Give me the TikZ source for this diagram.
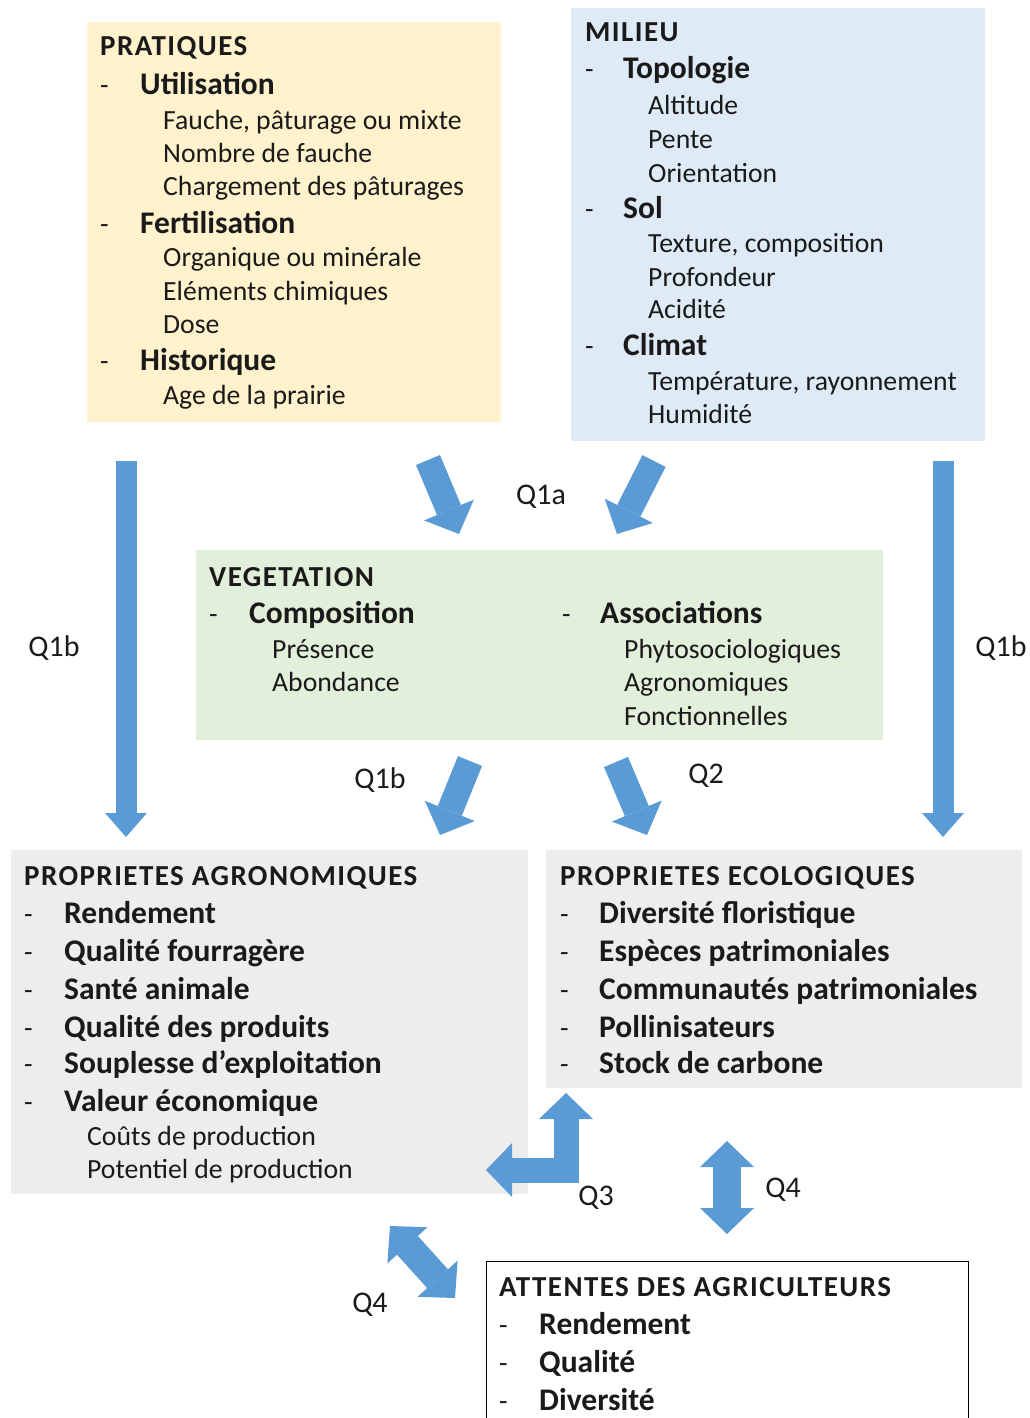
\documentclass[tikz,border=0pt]{standalone}
\usepackage{fontspec}
\setmainfont{Carlito}
\usetikzlibrary{arrows.meta}

\definecolor{pratfill}{HTML}{FFF2CC}
\definecolor{milfill}{HTML}{DEEBF7}
\definecolor{vegfill}{HTML}{E2EFDA}
\definecolor{propfill}{HTML}{EDEDED}
\definecolor{flowblue}{HTML}{5B9BD5}
\definecolor{txt}{HTML}{1A1A1A}

\tikzset{
  smallhead/.tip={Triangle[length=24pt,width=42pt,line width=0pt]},
  bighead/.tip={Triangle[length=26pt,width=54pt,line width=0pt]}
}

\begin{document}
\begin{tikzpicture}[x=1pt,y=-1pt,text=txt,
    box/.style={anchor=north west,inner sep=0pt,outer sep=0pt},
    boxtitle/.style={anchor=base west,inner sep=0pt,font=\fontsize{29}{35}\selectfont\bfseries\addfontfeature{LetterSpace=5}},
    heading/.style={anchor=base west,inner sep=0pt,font=\fontsize{31.5}{38}\selectfont\bfseries},
    tiret/.style={anchor=base west,inner sep=0pt,font=\fontsize{28}{34}\selectfont},
    subline/.style={anchor=base west,inner sep=0pt,font=\fontsize{27.7}{34}\selectfont},
    qlabel/.style={inner sep=0pt,font=\fontsize{30}{36}\selectfont},
    flow/.style={draw=flowblue,line width=#1}]
    \useasboundingbox (0,0) rectangle (1030,1418);

    % boxes
    \node[box,fill=pratfill,minimum width=414,minimum height=400] (pratiques) at (87,22) {};
    \node[box,fill=milfill,minimum width=414,minimum height=433] (milieu) at (571,8) {};
    \node[box,fill=vegfill,minimum width=687,minimum height=190] (vegetation) at (196,550) {};
    \node[box,fill=propfill,minimum width=517,minimum height=344] (agro) at (11,850) {};
    \node[box,fill=propfill,minimum width=476,minimum height=238] (eco) at (546,850) {};
    \node[box,draw=black,line width=1pt,minimum width=482,minimum height=175] (attentes) at (486,1261) {};

    % PRATIQUES
    \node[boxtitle] (prat-title) at (100,56) {PRATIQUES};
    \foreach \y/\t [count=\i] in {95/Utilisation, 233/Fertilisation, 370/Historique} {
        \node[tiret] (prat-dash\i) at (100,\y) {-};
        \node[heading] (prat-head\i) at (140,\y) {\t};
    }
    \foreach \y/\t [count=\i] in {129/{Fauche, pâturage ou mixte}, 162/Nombre de fauche,
        195/Chargement des pâturages, 266/Organique ou minérale, 300/Eléments chimiques,
        333/Dose, 404/Age de la prairie}
        \node[subline] (prat-sub\i) at (163,\y) {\t};

    % MILIEU
    \node[boxtitle] (mil-title) at (585,42) {MILIEU};
    \foreach \y/\t [count=\i] in {79/Topologie, 218/Sol, 355/Climat} {
        \node[tiret] (mil-dash\i) at (585,\y) {-};
        \node[heading] (mil-head\i) at (623,\y) {\t};
    }
    \foreach \y/\t [count=\i] in {115/Altitude, 148/Pente, 182/Orientation,
        252/{Texture, composition}, 286/Profondeur, 318/Acidité,
        390/{Température, rayonnement}, 423/Humidité}
        \node[subline] (mil-sub\i) at (648,\y) {\t};

    % VEGETATION
    \node[boxtitle] (veg-title) at (209,586) {VEGETATION};
    \node[tiret] (veg-dash1) at (209,623) {-};
    \node[heading] (veg-head1) at (249,623) {Composition};
    \node[tiret] (veg-dash2) at (562,623) {-};
    \node[heading] (veg-head2) at (600,623) {Associations};
    \node[subline] (veg-sub1) at (272,658) {Présence};
    \node[subline] (veg-sub2) at (272,691) {Abondance};
    \node[subline] (veg-sub3) at (624,658) {Phytosociologiques};
    \node[subline] (veg-sub4) at (624,691) {Agronomiques};
    \node[subline] (veg-sub5) at (624,725) {Fonctionnelles};

    % PROPRIETES AGRONOMIQUES
    \node[boxtitle] (agro-title) at (24,885) {PROPRIETES AGRONOMIQUES};
    \foreach \y/\t [count=\i] in {923/Rendement, 961/Qualité fourragère, 999/Santé animale,
        1037/Qualité des produits, 1073/{Souplesse d’exploitation}, 1111/Valeur économique} {
        \node[tiret] (agro-dash\i) at (24,\y) {-};
        \node[heading] (agro-head\i) at (64,\y) {\t};
    }
    \node[subline] (agro-sub1) at (87,1145) {Coûts de production};
    \node[subline] (agro-sub2) at (87,1178) {Potentiel de production};

    % PROPRIETES ECOLOGIQUES
    \node[boxtitle] (eco-title) at (560,885) {PROPRIETES ECOLOGIQUES};
    \foreach \y/\t [count=\i] in {923/Diversité floristique, 961/Espèces patrimoniales,
        999/Communautés patrimoniales, 1037/Pollinisateurs, 1073/Stock de carbone} {
        \node[tiret] (eco-dash\i) at (560,\y) {-};
        \node[heading] (eco-head\i) at (599,\y) {\t};
    }

    % ATTENTES DES AGRICULTEURS
    \node[boxtitle] (att-title) at (499,1296) {ATTENTES DES AGRICULTEURS};
    \foreach \y/\t [count=\i] in {1334/Rendement, 1372/Qualité, 1410/Diversité} {
        \node[tiret] (att-dash\i) at (499,\y) {-};
        \node[heading] (att-head\i) at (539,\y) {\t};
    }

    % arrow ends
    \coordinate (q1bl-s) at (126,461);   \coordinate (q1bl-e) at (126,837);
    \coordinate (q1br-s) at (943,461);   \coordinate (q1br-e) at (943,837);
    \coordinate (q1al-s) at (428,460);   \coordinate (q1al-e) at (459,534);
    \coordinate (q1ar-s) at (654,461);   \coordinate (q1ar-e) at (617,534);
    \coordinate (q1bv-s) at (470,761);   \coordinate (q1bv-e) at (440,835);
    \coordinate (q2-s) at (616,762);     \coordinate (q2-e) at (647,835);
    \coordinate (q3-l) at (486,1170);    \coordinate (q3-u) at (566,1093);
    \coordinate (q4v-u) at (727,1141);   \coordinate (q4v-d) at (727,1234);
    \coordinate (q4d-u) at (390,1226);   \coordinate (q4d-d) at (455,1298);

    \draw[flow=21pt,-smallhead] (q1bl-s) -- (q1bl-e);
    \draw[flow=21pt,-smallhead] (q1br-s) -- (q1br-e);
    \draw[flow=26pt,-bighead] (q1al-s) -- (q1al-e);
    \draw[flow=26pt,-bighead] (q1ar-s) -- (q1ar-e);
    \draw[flow=26pt,-bighead] (q1bv-s) -- (q1bv-e);
    \draw[flow=26pt,-bighead] (q2-s) -- (q2-e);
    \draw[flow=25pt,bighead-bighead] (q3-l) -| (q3-u);
    \draw[flow=28pt,bighead-bighead] (q4v-u) -- (q4v-d);
    \draw[flow=28pt,bighead-bighead] (q4d-u) -- (q4d-d);

    % labels
    \node[qlabel] (lab-q1bl) at (54,648) {Q1b};
    \node[qlabel] (lab-q1br) at (1001,648) {Q1b};
    \node[qlabel] (lab-q1a) at (541,497) {Q1a};
    \node[qlabel] (lab-q1bv) at (380,780) {Q1b};
    \node[qlabel] (lab-q2) at (706,776) {Q2};
    \node[qlabel] (lab-q3) at (596,1198) {Q3};
    \node[qlabel] (lab-q4v) at (783,1190) {Q4};
    \node[qlabel] (lab-q4d) at (370,1305) {Q4};
\end{tikzpicture}
\end{document}
